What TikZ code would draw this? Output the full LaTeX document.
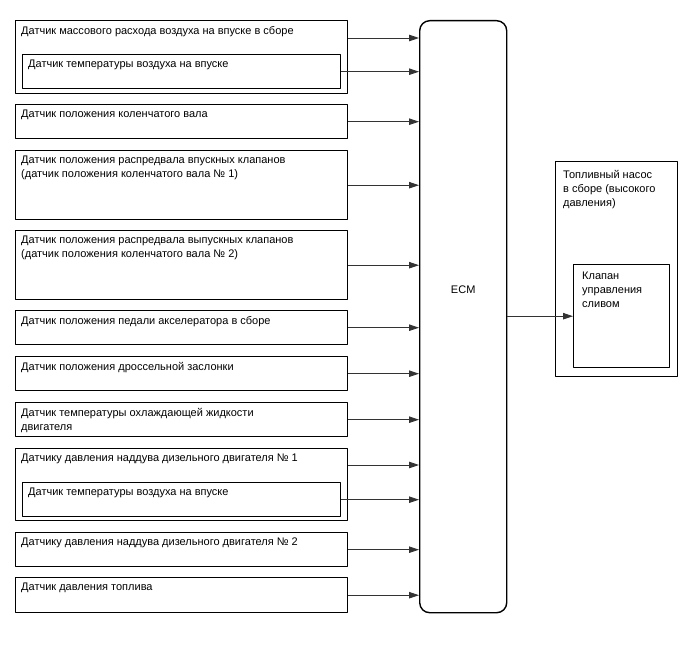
\documentclass[tikz,border=0pt]{standalone}
\usepackage{fontspec}
\setmainfont{Liberation Sans}
\usetikzlibrary{arrows.meta,calc,positioning}

\begin{document}
\begin{tikzpicture}[x=1pt,y=-1pt, line join=round, font=\fontsize{11}{14}\selectfont,
	box/.style args={#1x#2}{draw, line width=1.4pt, rectangle, anchor=north west, inner sep=0pt, minimum width=#1, minimum height=#2},
	txt/.style={inner sep=0pt, align=left},
	arr/.style={draw=black!80, line width=0.9pt, -{Triangle[length=10pt,width=6.5pt]}}]
	\def \W{332} %ширина блока датчика
	\def \w{318} %ширина вложенного блока
	\useasboundingbox (0,0) rectangle (688,658);
	% датчики
	\node[box=\W x73] (s1) at (15,20) {};
	\node[box=\w x34] (s1t) at (22,54) {};
	\node[box=\W x34] (s2) at (15,104) {};
	\node[box=\W x69] (s3) at (15,150) {};
	\node[box=\W x69] (s4) at (15,230) {};
	\node[box=\W x34] (s5) at (15,310) {};
	\node[box=\W x34] (s6) at (15,356) {};
	\node[box=\W x34] (s7) at (15,402) {};
	\node[box=\W x72] (s8) at (15,448) {};
	\node[box=\w x34] (s8t) at (22,482) {};
	\node[box=\W x34] (s9) at (15,532) {};
	\node[box=\W x35] (s10) at (15,577) {};
	\node[txt, below right=6pt and 6pt of s1.north west] (t1) {Датчик массового расхода воздуха на впуске в сборе};
	\node[txt, below right=6pt and 6pt of s1t.north west] (t1t) {Датчик температуры воздуха на впуске};
	\node[txt, below right=6pt and 6pt of s2.north west] (t2) {Датчик положения коленчатого вала};
	\node[txt, below right=6pt and 6pt of s3.north west] (t3) {Датчик положения распредвала впускных клапанов\\(датчик положения коленчатого вала № 1)};
	\node[txt, below right=6pt and 6pt of s4.north west] (t4) {Датчик положения распредвала выпускных клапанов\\(датчик положения коленчатого вала № 2)};
	\node[txt, below right=6pt and 6pt of s5.north west] (t5) {Датчик положения педали акселератора в сборе};
	\node[txt, below right=6pt and 6pt of s6.north west] (t6) {Датчик положения дроссельной заслонки};
	\node[txt, below right=6pt and 6pt of s7.north west] (t7) {Датчик температуры охлаждающей жидкости\\двигателя};
	\node[txt, below right=6pt and 6pt of s8.north west] (t8) {Датчику давления наддува дизельного двигателя № 1};
	\node[txt, below right=6pt and 6pt of s8t.north west] (t8t) {Датчик температуры воздуха на впуске};
	\node[txt, below right=6pt and 6pt of s9.north west] (t9) {Датчику давления наддува дизельного двигателя № 2};
	\node[txt, below right=6pt and 6pt of s10.north west] (t10) {Датчик давления топлива};
	% ECM и насос
	\node[box=87x592, rounded corners=10pt] (E) at (419,20) {};
	\node (ecm) at ($(E.center)+(0,-27)$) {ECM};
	\node[box=122x215] (P) at (555,161) {};
	\node[box=96x103] (V) at (573,264) {};
	\node[txt, below right=9.5pt and 8pt of P.north west] (tp) {Топливный насос\\в сборе (высокого\\давления)};
	\node[txt, below right=7.5pt and 9pt of V.north west] (tv) {Клапан\\управления\\сливом};
	% стрелки
	\coordinate (a1) at ($(s1.north east)+(0,18)$);
	\coordinate (a8) at ($(s8.north east)+(0,17)$);
	\foreach \n in {a1,s1t,s2,s3,s4,s5,s6,s7,a8,s8t,s9,s10}
		\draw[arr] (\n.east) -- (\n.east -| E.west);
	\draw[arr] (V.west -| E.east) -- (V.west);
\end{tikzpicture}
\end{document}
